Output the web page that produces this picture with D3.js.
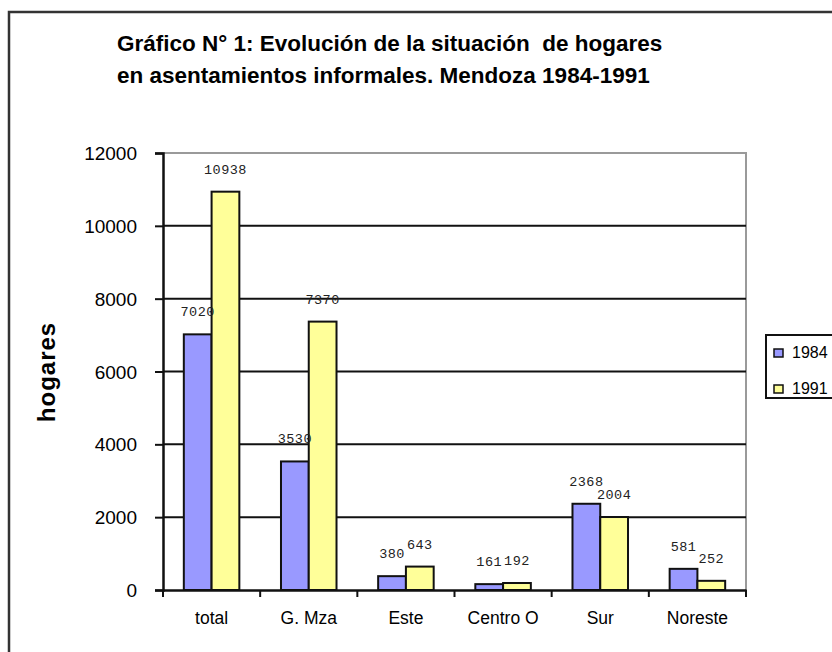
<!DOCTYPE html>
<html>
<head>
<meta charset="utf-8">
<script src="https://cdn.jsdelivr.net/npm/d3@7"></script>
<style>
  html, body { margin: 0; padding: 0; background: #fff; }
  svg { display: block; }
</style>
</head>
<body>
<svg id="chart" width="832" height="652"></svg>
<script>
const categories = ["total", "G. Mza", "Este", "Centro O", "Sur", "Noreste"];
const seriesNames = ["1984", "1991"];
const values1984 = [7020, 3530, 380, 161, 2368, 581];
const values1991 = [10938, 7370, 643, 192, 2004, 252];
const yTicks = [0, 2000, 4000, 6000, 8000, 10000, 12000];
const titleLines = ["Gráfico N° 1: Evolución de la situación  de hogares",
                    "en asentamientos informales. Mendoza 1984-1991"];
const yTitle = "hogares";

const seriesValues = [values1984, values1991];
const colors = {"1984": "#9999FF", "1991": "#FFFF99"};

const svg = d3.select("#chart");
const plot = {left: 163, right: 746, top: 153, bottom: 590};

// outer frame
svg.append("rect").attr("x", 9).attr("y", 12).attr("width", 900).attr("height", 700)
  .attr("fill", "none").attr("stroke", "#333").attr("stroke-width", 2.5);

// title
svg.append("g").selectAll("text").data(titleLines).join("text")
  .attr("x", 117).attr("y", (d, i) => 51 + i * 32)
  .attr("font-family", "Liberation Sans, Arial, sans-serif")
  .attr("font-weight", "bold").attr("font-size", 22.5).attr("fill", "#000")
  .attr("xml:space", "preserve").style("white-space", "pre")
  .text(d => d);

const x0 = d3.scaleBand().domain(categories).range([plot.left, plot.right]).padding(0);
const x1 = d3.scaleBand().domain(seriesNames).range([0, x0.bandwidth()]).paddingInner(0).paddingOuter(0.75);
const y = d3.scaleLinear().domain([0, 12000]).range([plot.bottom, plot.top]);

// plot area border (gray top & right)
svg.append("path")
  .attr("d", `M${plot.left},${plot.top}H${plot.right}V${plot.bottom}`)
  .attr("fill", "none").attr("stroke", "#9a9a9a").attr("stroke-width", 2);

// gridlines
svg.append("g").selectAll("line").data(yTicks.filter(t => t > 0 && t < 12000)).join("line")
  .attr("x1", plot.left).attr("x2", plot.right)
  .attr("y1", d => y(d)).attr("y2", d => y(d))
  .attr("stroke", "#111").attr("stroke-width", 2);

// bars
const data = [];
categories.forEach((c, i) => seriesNames.forEach((s, j) => data.push({cat: c, ser: s, v: seriesValues[j][i]})));

svg.append("g").selectAll("rect").data(data).join("rect")
  .attr("x", d => x0(d.cat) + x1(d.ser))
  .attr("y", d => y(d.v))
  .attr("width", x1.bandwidth())
  .attr("height", d => y(0) - y(d.v))
  .attr("fill", d => colors[d.ser])
  .attr("stroke", "#111").attr("stroke-width", 2);

// data labels
svg.append("g").selectAll("text").data(data).join("text")
  .attr("x", d => x0(d.cat) + x1(d.ser) + x1.bandwidth() / 2)
  .attr("y", d => y(d.v) - 18)
  .attr("text-anchor", "middle")
  .attr("font-family", "Liberation Mono, Courier New, monospace")
  .attr("font-size", 13.5).attr("fill", "#222")
  .style("letter-spacing", "0.5px")
  .text(d => d.v);

// y axis
const yAxis = d3.axisLeft(y).tickValues(yTicks).tickSize(8).tickPadding(18).tickFormat(d3.format("d"));
const gy = svg.append("g").attr("transform", `translate(${plot.left},0)`).call(yAxis);
gy.select(".domain").attr("stroke", "#111").attr("stroke-width", 2.5);
gy.selectAll(".tick line").attr("stroke", "#111").attr("stroke-width", 2);
gy.selectAll(".tick text").attr("font-family", "Liberation Sans, Arial, sans-serif")
  .attr("font-size", 19).attr("fill", "#000").attr("dy", "0.35em");

// x axis
const xAxis = d3.axisBottom(x0).tickSize(0).tickPadding(22);
const gx = svg.append("g").attr("transform", `translate(0,${plot.bottom})`).call(xAxis);
gx.select(".domain").attr("stroke", "#111").attr("stroke-width", 2.5);
gx.selectAll(".tick text").attr("font-family", "Liberation Sans, Arial, sans-serif")
  .attr("font-size", 17.5).attr("fill", "#000");
// category boundary ticks
const bounds = categories.map(c => x0(c)).concat([plot.right]);
svg.append("g").selectAll("line").data(bounds).join("line")
  .attr("x1", d => d).attr("x2", d => d)
  .attr("y1", plot.bottom).attr("y2", plot.bottom + 7)
  .attr("stroke", "#111").attr("stroke-width", 2);

// y title
svg.append("text")
  .attr("transform", "translate(55,372) rotate(-90)")
  .attr("text-anchor", "middle")
  .attr("font-family", "Liberation Sans, Arial, sans-serif")
  .attr("font-weight", "bold").attr("font-size", 24).attr("fill", "#000")
  .style("letter-spacing", "1px")
  .text(yTitle);

// legend
const lg = svg.append("g");
lg.append("rect").attr("x", 766).attr("y", 335).attr("width", 100).attr("height", 63)
  .attr("fill", "#fff").attr("stroke", "#111").attr("stroke-width", 2);
const li = lg.selectAll("g").data(seriesNames).join("g")
  .attr("transform", (d, i) => `translate(774,${353 + i * 36})`);
li.append("rect").attr("x", 0).attr("y", -4).attr("width", 9).attr("height", 8)
  .attr("fill", d => colors[d]).attr("stroke", "#111").attr("stroke-width", 1.5);
li.append("text").attr("x", 18).attr("y", 5)
  .attr("font-family", "Liberation Sans, Arial, sans-serif")
  .attr("font-size", 16).attr("fill", "#000")
  .text(d => d);
</script>
</body>
</html>
